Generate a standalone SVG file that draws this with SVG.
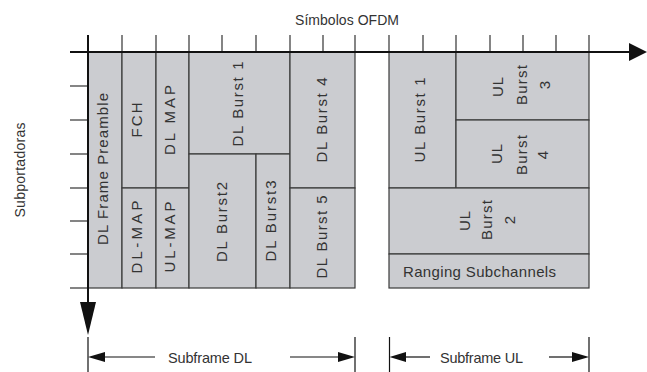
<svg xmlns="http://www.w3.org/2000/svg" width="647" height="372" viewBox="0 0 647 372">
<style>
text{font-family:"Liberation Sans",Arial,sans-serif;fill:#333;}
.v{font-size:15px;text-anchor:middle;}
.h{font-size:14px;}
.blk{fill:#cbccd0;stroke:#3a3a3a;stroke-width:1.2;}
.ax{stroke:#111;stroke-width:2;fill:none;}
.tk{stroke:#333;stroke-width:1.2;}
.dim{stroke:#111;stroke-width:1.2;}
.ah{fill:#111;}
</style>
<rect width="647" height="372" fill="#fff"/>
<g id="labels">
<text class="h" x="295" y="25" textLength="104" lengthAdjust="spacing">Símbolos OFDM</text>
<text class="h" text-anchor="middle" transform="translate(25,170) rotate(-90)" textLength="95" lengthAdjust="spacing">Subportadoras</text>
</g>
<g id="dl-preamble"><rect class="blk" x="88" y="52" width="34" height="236"/><text class="v" transform="translate(108,169) rotate(-90)" textLength="152" lengthAdjust="spacing">DL Frame Preamble</text></g>
<g id="fch"><rect class="blk" x="122" y="52" width="34" height="136"/><text class="v" transform="translate(142,120) rotate(-90)" textLength="35" lengthAdjust="spacing">FCH</text></g>
<g id="dl-map"><rect class="blk" x="156" y="52" width="33" height="136"/><text class="v" transform="translate(175,120) rotate(-90)" textLength="70" lengthAdjust="spacing">DL MAP</text></g>
<g id="dl-map2"><rect class="blk" x="122" y="188" width="34" height="100"/><text class="v" transform="translate(142,237) rotate(-90)" textLength="73" lengthAdjust="spacing">DL-MAP</text></g>
<g id="ul-map"><rect class="blk" x="156" y="188" width="33" height="100"/><text class="v" transform="translate(175,237) rotate(-90)" textLength="71" lengthAdjust="spacing">UL-MAP</text></g>
<g id="dl-burst1"><rect class="blk" x="189" y="52" width="101" height="102"/><text class="v" transform="translate(243,104) rotate(-90)" textLength="85" lengthAdjust="spacing">DL Burst 1</text></g>
<g id="dl-burst2"><rect class="blk" x="189" y="154" width="67" height="134"/><text class="v" transform="translate(227,222) rotate(-90)" textLength="80" lengthAdjust="spacing">DL Burst2</text></g>
<g id="dl-burst3"><rect class="blk" x="256" y="154" width="34" height="134"/><text class="v" transform="translate(276,221) rotate(-90)" textLength="81" lengthAdjust="spacing">DL Burst3</text></g>
<g id="dl-burst4"><rect class="blk" x="290" y="52" width="65" height="136"/><text class="v" transform="translate(327,120) rotate(-90)" textLength="85" lengthAdjust="spacing">DL Burst 4</text></g>
<g id="dl-burst5"><rect class="blk" x="290" y="188" width="65" height="100"/><text class="v" transform="translate(327,237) rotate(-90)" textLength="83" lengthAdjust="spacing">DL Burst 5</text></g>
<g id="ul-burst1"><rect class="blk" x="389" y="52" width="67" height="136"/><text class="v" transform="translate(425,120) rotate(-90)" textLength="85" lengthAdjust="spacing">UL Burst 1</text></g>
<g id="ul-burst3"><rect class="blk" x="456" y="52" width="133" height="68"/>
<text class="v" transform="translate(503,87) rotate(-90)" textLength="20" lengthAdjust="spacing">UL</text>
<text class="v" transform="translate(527,85) rotate(-90)" textLength="40" lengthAdjust="spacing">Burst</text>
<text class="v" transform="translate(550,85) rotate(-90)">3</text></g>
<g id="ul-burst4"><rect class="blk" x="456" y="120" width="133" height="68"/>
<text class="v" transform="translate(502,154) rotate(-90)" textLength="20" lengthAdjust="spacing">UL</text>
<text class="v" transform="translate(527,155) rotate(-90)" textLength="40" lengthAdjust="spacing">Burst</text>
<text class="v" transform="translate(548,155) rotate(-90)">4</text></g>
<g id="ul-burst2"><rect class="blk" x="389" y="188" width="200" height="66"/>
<text class="v" transform="translate(470,221) rotate(-90)" textLength="20" lengthAdjust="spacing">UL</text>
<text class="v" transform="translate(492,220) rotate(-90)" textLength="40" lengthAdjust="spacing">Burst</text>
<text class="v" transform="translate(515,220) rotate(-90)">2</text></g>
<g id="ranging"><rect class="blk" x="389" y="254" width="200" height="34"/><text x="403" y="277" font-size="15" textLength="153" lengthAdjust="spacing">Ranging Subchannels</text></g>
<g id="connectors">
<g class="tk">
<line x1="122" y1="35" x2="122" y2="52"/><line x1="156" y1="35" x2="156" y2="52"/><line x1="189" y1="35" x2="189" y2="52"/><line x1="222" y1="35" x2="222" y2="52"/><line x1="256" y1="35" x2="256" y2="52"/><line x1="290" y1="35" x2="290" y2="52"/><line x1="323" y1="35" x2="323" y2="52"/><line x1="355" y1="35" x2="355" y2="52"/><line x1="389" y1="35" x2="389" y2="52"/><line x1="423" y1="35" x2="423" y2="52"/><line x1="456" y1="35" x2="456" y2="52"/><line x1="490" y1="35" x2="490" y2="52"/><line x1="523" y1="35" x2="523" y2="52"/><line x1="556" y1="35" x2="556" y2="52"/><line x1="589" y1="35" x2="589" y2="52"/>
<line x1="70" y1="86" x2="88" y2="86"/><line x1="70" y1="120" x2="88" y2="120"/><line x1="70" y1="154" x2="88" y2="154"/><line x1="70" y1="188" x2="88" y2="188"/><line x1="70" y1="221" x2="88" y2="221"/><line x1="70" y1="254" x2="88" y2="254"/><line x1="70" y1="288" x2="88" y2="288"/>
</g>
<line class="ax" x1="70" y1="52" x2="632" y2="52"/>
<polygon class="ah" points="629,43 647,52 629,61"/>
<line class="ax" x1="88" y1="35" x2="88" y2="305"/>
<polygon class="ah" points="80,302 96,302 88,335"/>
<g class="dim">
<line x1="88" y1="337" x2="88" y2="372"/><line x1="355" y1="337" x2="355" y2="372"/>
<line x1="389.5" y1="337" x2="389.5" y2="372"/><line x1="589" y1="337" x2="589" y2="372"/>
<line x1="100" y1="357" x2="155" y2="357"/><line x1="290" y1="357" x2="343" y2="357"/>
<line x1="400" y1="357" x2="430" y2="357"/><line x1="549" y1="357" x2="577" y2="357"/>
</g>
<polygon class="ah" points="88,357 105,352 105,362"/>
<polygon class="ah" points="355,357 338,352 338,362"/>
<polygon class="ah" points="389.5,357 406,352 406,362"/>
<polygon class="ah" points="589,357 572,352 572,362"/>
</g>
<g id="dim-labels">
<text x="168" y="363" font-size="14.5" textLength="84" lengthAdjust="spacing">Subframe DL</text>
<text x="440" y="363" font-size="14.5" textLength="83" lengthAdjust="spacing">Subframe UL</text>
</g>
</svg>
